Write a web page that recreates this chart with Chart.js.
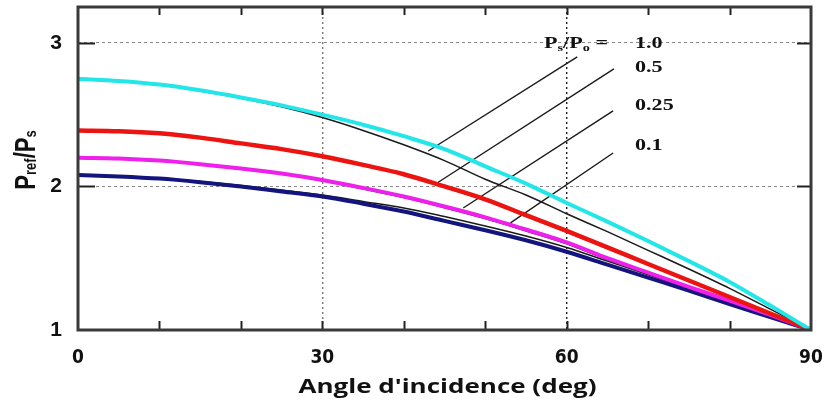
<!DOCTYPE html>
<html><head><meta charset="utf-8">
<script src="https://cdn.jsdelivr.net/npm/chart.js@4.4.0/dist/chart.umd.min.js"></script>
<style>html,body{margin:0;padding:0;background:#fff;}</style>
</head><body>
<canvas id="c" width="826" height="402"></canvas>
<script>
// Angle of incidence (deg)
const angles = [0,5,10,15,20,25,30,35,40,45,50,55,60,65,70,75,80,85,90];
// Coloured overlay curves, Pref/Ps for Ps/Po = 1.0, 0.5, 0.25, 0.1
const ratio10  = [2.75,2.735,2.71,2.67,2.62,2.565,2.50,2.43,2.35,2.26,2.14,2.02,1.885,1.755,1.62,1.48,1.335,1.17,1.00];
const ratio05  = [2.39,2.385,2.37,2.34,2.30,2.26,2.21,2.15,2.085,2.00,1.91,1.80,1.69,1.575,1.46,1.345,1.23,1.115,1.00];
const ratio025 = [2.20,2.195,2.18,2.155,2.125,2.09,2.045,1.99,1.93,1.86,1.785,1.70,1.61,1.50,1.40,1.30,1.205,1.105,1.00];
const ratio01  = [2.08,2.07,2.055,2.03,2.00,1.965,1.93,1.88,1.825,1.76,1.695,1.625,1.545,1.455,1.365,1.275,1.18,1.09,1.00];
// Thin black original curves
const black10  = [2.75,2.735,2.71,2.665,2.615,2.555,2.48,2.39,2.29,2.18,2.05,1.94,1.81,1.685,1.555,1.425,1.29,1.145,1.00];
const black05  = [2.395,2.39,2.375,2.345,2.305,2.262,2.21,2.148,2.08,1.995,1.903,1.792,1.682,1.568,1.455,1.34,1.226,1.112,1.00];
const black025 = [2.20,2.195,2.18,2.153,2.122,2.086,2.04,1.983,1.922,1.852,1.776,1.69,1.60,1.49,1.392,1.295,1.20,1.102,1.00];
const black01  = [2.08,2.07,2.057,2.035,2.007,1.975,1.94,1.895,1.85,1.79,1.725,1.655,1.575,1.48,1.385,1.29,1.195,1.10,1.00];
// Leader lines from labels to curves (data units)
const leaderX1 = [61.3,65.8,65.7,65.7];
const leaderY1 = [2.902,2.819,2.526,2.233];
const leaderX2 = [43.0,43.9,47.3,53.1];
const leaderY2 = [2.247,2.017,1.850,1.746];
// Labels
const legendValues = ["1.0","0.5","0.25","0.1"];
const xTickValues = [0,10,20,30,40,50,60,70,80,90];
const yTickValues = [1,2,3];
const xTitle = "Angle d'incidence (deg)";

const pts = arr => angles.map((a,i)=>({x:a,y:arr[i]}));
const curve = (arr,color,w,order) => ({data:pts(arr),borderColor:color,borderWidth:w,pointRadius:0,cubicInterpolationMode:'monotone',fill:false,order:order});

const datasets = [
  curve(ratio10,'#22E6E8',4,0),
  curve(ratio05,'#EC1410',4.5,0),
  curve(ratio025,'#F020EC',4,0),
  curve(ratio01,'#14147E',4,0),
  curve(black10,'#1a1a1a',1.5,1),
  curve(black05,'#1a1a1a',1.5,1),
  curve(black025,'#1a1a1a',1.5,1),
  curve(black01,'#1a1a1a',1.5,1),
];
for (let i=0;i<leaderX1.length;i++){
  datasets.push({data:[{x:leaderX1[i],y:leaderY1[i]},{x:leaderX2[i],y:leaderY2[i]}],borderColor:'#1a1a1a',borderWidth:1.4,pointRadius:0,tension:0,order:1});
}

const decor = {
  id:'decor',
  afterDatasetsDraw(chart){
    const c = chart.ctx, a = chart.chartArea, xs = chart.scales.x, ys = chart.scales.y;
    c.save();
    // inward ticks
    c.strokeStyle = '#222'; c.lineWidth = 2;
    xTickValues.forEach(v=>{
      if (v===0||v===90) return;
      const px = Math.round(xs.getPixelForValue(v))+0.5;
      c.beginPath(); c.moveTo(px,a.bottom); c.lineTo(px,a.bottom-9); c.stroke();
      c.beginPath(); c.moveTo(px,a.top); c.lineTo(px,a.top+8); c.stroke();
    });
    yTickValues.forEach(v=>{
      if (v===1) return;
      const py = Math.round(ys.getPixelForValue(v))+0.5;
      c.beginPath(); c.moveTo(a.left,py); c.lineTo(a.left+17,py); c.stroke();
      c.beginPath(); c.moveTo(a.right,py); c.lineTo(a.right-14,py); c.stroke();
    });
    // frame
    c.strokeStyle = '#3a3a3a'; c.lineWidth = 3;
    c.strokeRect(a.left, a.top, a.right-a.left, a.bottom-a.top);
    c.restore();

    // legend text (serif, horizontally widened like the scan)
    c.save();
    c.fillStyle = '#111'; c.textBaseline = 'alphabetic'; c.textAlign='left';
    const big = "bold 17px 'Liberation Serif', 'DejaVu Serif', serif";
    const small = "bold 11px 'Liberation Serif', 'DejaVu Serif', serif";
    const sx = 1.3;
    c.translate(544,0); c.scale(sx,1);
    let x = 0, y = 48;
    const seg = (t,f,dy)=>{ c.font=f; c.fillText(t,x,y+dy); x += c.measureText(t).width; };
    seg('P',big,0); seg('s',small,3); seg('/P',big,0); seg('o',small,3); seg(' =',big,0);
    c.font = big;
    const baselines = [48,72,110,150];
    legendValues.forEach((t,i)=>c.fillText(t,(635-544)/sx,baselines[i]));
    c.restore();

    // x-axis title
    c.save();
    c.fillStyle = '#111'; c.textAlign='center'; c.textBaseline='alphabetic';
    c.font = "bold 20px 'Open Sans', sans-serif";
    c.translate((a.left+a.right)/2 + 3, 393);
    c.scale(1.3,1);
    c.fillText(xTitle,0,0);
    c.restore();

    // y-axis title with subscripts, rotated
    c.save();
    c.fillStyle = '#111';
    c.translate(35,160);
    c.rotate(-Math.PI/2);
    c.scale(1,1.3);
    const fBig = "bold 22px 'Liberation Sans', Arial, sans-serif";
    const fSmall = "bold 13px 'Liberation Sans', Arial, sans-serif";
    const parts = [['P',fBig,0],['ref',fSmall,1],['/P',fBig,0],['s',fSmall,1]];
    let L = 0; parts.forEach(p=>{c.font=p[1]; L += c.measureText(p[0]).width;});
    let lx = -L/2;
    parts.forEach(p=>{c.font=p[1]; c.fillText(p[0],lx,p[2]); lx += c.measureText(p[0]).width;});
    c.restore();
  }
};

new Chart(document.getElementById('c'), {
  type:'line',
  data:{datasets},
  options:{
    responsive:false, animation:false,
    layout:{padding:{top:7,right:15,left:0,bottom:0}},
    plugins:{legend:{display:false},tooltip:{enabled:false}},
    scales:{
      x:{
        type:'linear', min:0, max:90,
        afterBuildTicks: s => { s.ticks = xTickValues.map(v=>({value:v})); },
        afterFit: s => { s.height = 72; s.paddingLeft = 0; s.paddingRight = 0; },
        ticks:{autoSkip:false, maxRotation:0, padding:17, color:'#111',
          callback: v => (v%30===0 ? String(v) : ''),
          font:{family:"'Liberation Sans Narrow','DejaVu Sans Condensed','Liberation Sans',Arial,sans-serif", size:19, weight:'bold'}},
        grid:{drawTicks:false, lineWidth:1.4,
          color: c => (c.tick && c.tick.value===60) ? '#222' : (c.tick && c.tick.value===30) ? '#777' : 'rgba(0,0,0,0)'},
        border:{display:false, dash:[2,3]},
        title:{display:false}
      },
      y:{
        type:'linear', min:1, max:3.25,
        afterBuildTicks: s => { s.ticks = yTickValues.map(v=>({value:v})); },
        afterFit: s => { s.width = 78; s.paddingTop = 0; s.paddingBottom = 0; },
        ticks:{padding:16, color:'#111',
          font:{family:"'Liberation Sans',Arial,sans-serif", size:21, weight:'bold'}},
        grid:{drawTicks:false, lineWidth:1,
          color: c => (c.tick && c.tick.value>1) ? '#888' : 'rgba(0,0,0,0)'},
        border:{display:false, dash:[3,3]}
      }
    }
  },
  plugins:[decor]
});
</script>
</body></html>
